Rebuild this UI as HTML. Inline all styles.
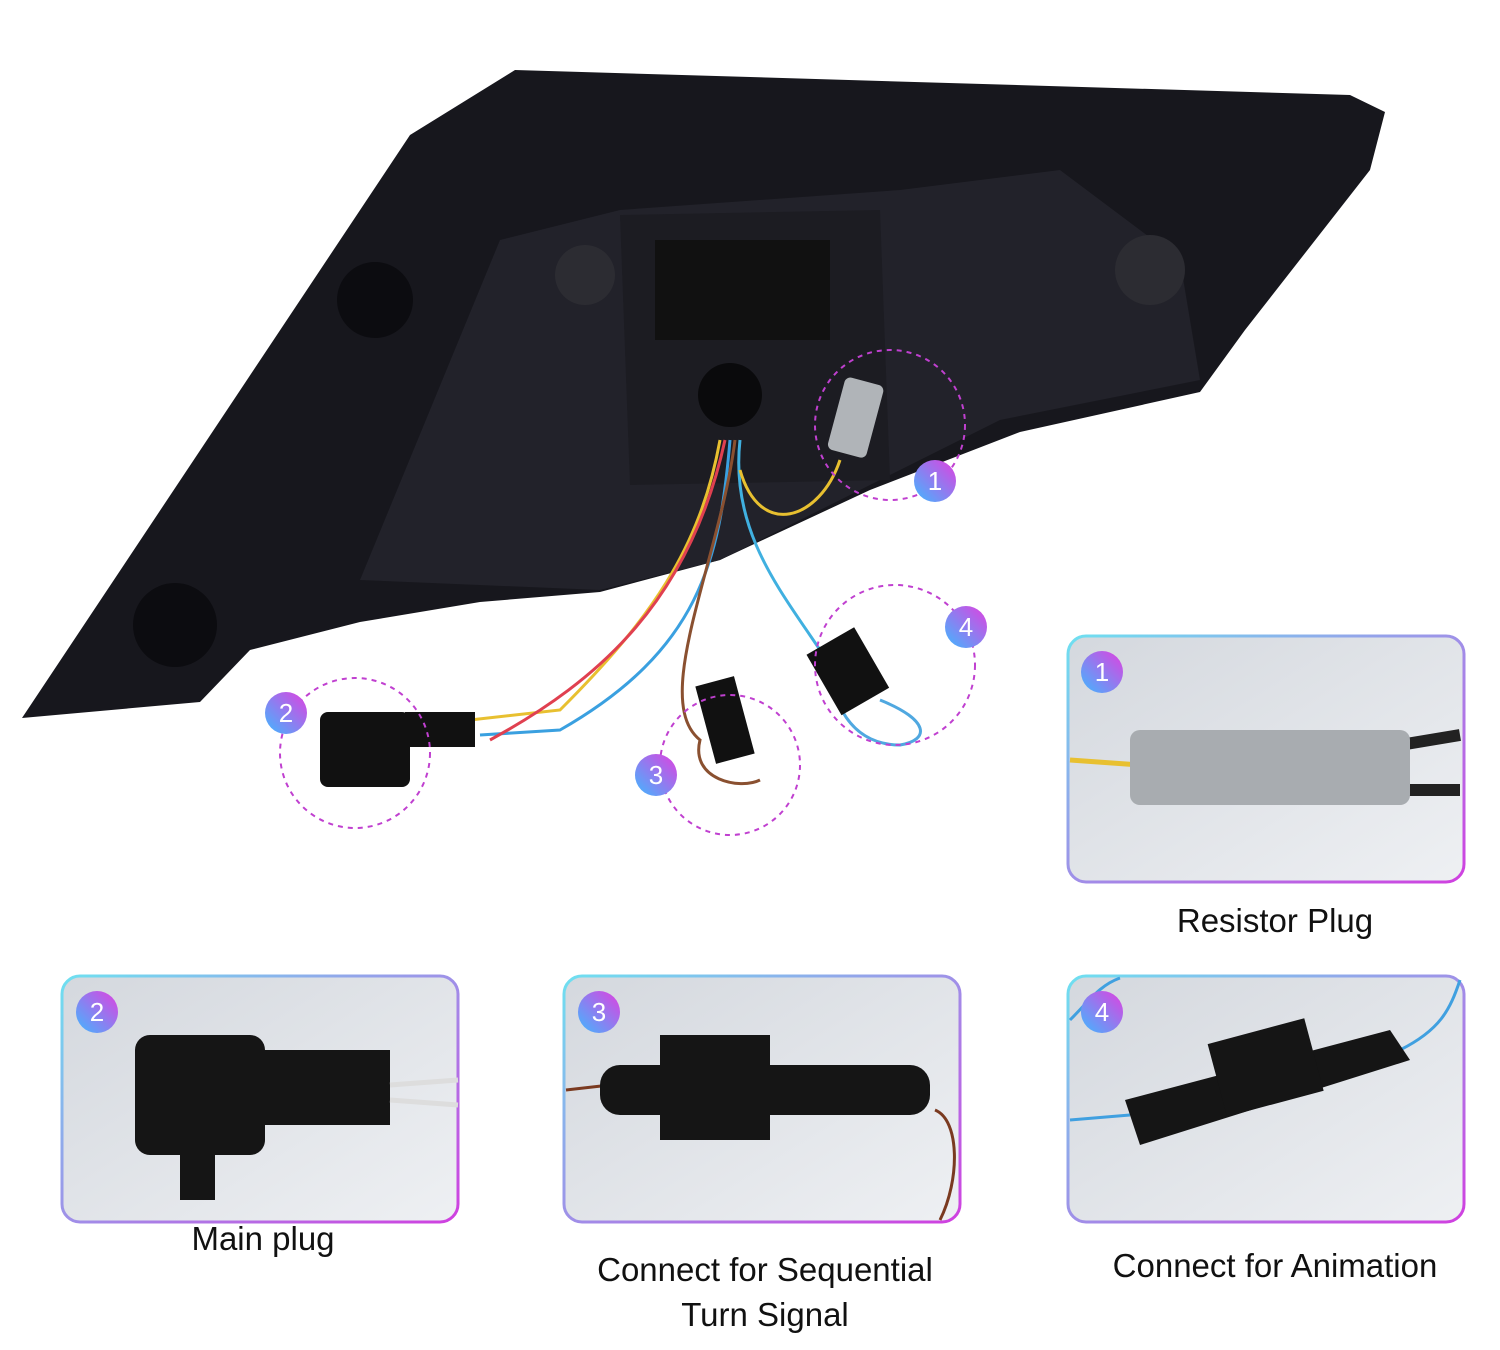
<!DOCTYPE html>
<html><head><meta charset="utf-8"><style>
body{margin:0;background:#fff;width:1500px;height:1350px;overflow:hidden;font-family:"Liberation Sans",sans-serif}
.lbl{position:absolute;font-size:33px;color:#111;text-align:center}
</style></head><body>
<svg width="1500" height="1350" style="position:absolute;left:0;top:0">
<defs>
<linearGradient id="bd" x1="0" y1="0" x2="1" y2="1"><stop offset="0" stop-color="#6ee0f0"/><stop offset="1" stop-color="#d040e0"/></linearGradient>
<linearGradient id="bg" x1="0" y1="0" x2="1" y2="1"><stop offset="0" stop-color="#d4d8de"/><stop offset="1" stop-color="#eef0f3"/></linearGradient>
<linearGradient id="bdg" x1="0" y1="1" x2="1" y2="0"><stop offset="0" stop-color="#40b8ff"/><stop offset="1" stop-color="#e040e0"/></linearGradient>
</defs>
<polygon points="22,718 410,135 515,70 1350,95 1385,112 1370,170 1245,330 1200,392 1020,432 870,490 720,560 600,592 480,602 360,622 250,650 200,702" fill="#17171d"/>
<polygon points="360,580 500,240 620,210 900,190 1060,170 1180,260 1200,380 1000,420 860,490 720,560 600,590" fill="#22222a"/>
<polygon points="620,215 880,210 890,480 630,485" fill="#1c1c22"/>
<circle cx="585" cy="275" r="30" fill="#2c2c32"/><circle cx="1150" cy="270" r="35" fill="#2c2c32"/>
<circle cx="375" cy="300" r="38" fill="#0c0c10"/><circle cx="175" cy="625" r="42" fill="#0c0c10"/>
<circle cx="730" cy="395" r="32" fill="#0a0a0c"/>
<rect x="655" y="240" width="175" height="100" fill="#111"/>
<g fill="none" stroke-width="3">
<path d="M720,440 C700,550 650,620 560,710 L470,720" stroke="#e8c030"/>
<path d="M730,440 C720,560 700,650 560,730 L480,735" stroke="#3aa0e0"/>
<path d="M725,440 C690,600 600,680 490,740" stroke="#e04050"/>
<path d="M735,440 C720,560 650,700 700,740 C690,780 740,790 760,780" stroke="#8a5030"/>
<path d="M740,440 C730,530 780,590 820,650" stroke="#40b0e0"/>
<path d="M740,470 C760,540 820,520 840,460" stroke="#e8c030"/>
<path d="M880,700 C930,720 930,740 900,745 C850,745 830,700 830,660" stroke="#50a8e0"/>
</g>
<rect x="835" y="380" width="40" height="75" rx="6" fill="#b0b4b8" transform="rotate(15 855 420)"/>
<rect x="320" y="712" width="90" height="75" rx="8" fill="#111"/><rect x="405" y="712" width="70" height="35" fill="#111"/>
<rect x="705" y="680" width="40" height="80" fill="#111" transform="rotate(-15 725 720)"/>
<rect x="820" y="635" width="55" height="70" fill="#111" transform="rotate(-30 850 670)"/>
<g fill="none" stroke="#c040d0" stroke-width="2" stroke-dasharray="5,5">
<circle cx="890" cy="425" r="75"/><circle cx="355" cy="753" r="75"/><circle cx="730" cy="765" r="70"/><circle cx="895" cy="665" r="80"/>
</g>
<g fill="url(#bg)" stroke="url(#bd)" stroke-width="3">
<rect x="1068" y="636" width="396" height="246" rx="18"/>
<rect x="62" y="976" width="396" height="246" rx="18"/>
<rect x="564" y="976" width="396" height="246" rx="18"/>
<rect x="1068" y="976" width="396" height="246" rx="18"/>
</g>
<path d="M1070,760 L1140,765" stroke="#e8c030" stroke-width="5"/>
<path d="M1400,745 L1460,735 M1400,790 L1460,790" stroke="#222" stroke-width="12"/>
<rect x="1130" y="730" width="280" height="75" rx="10" fill="#a8acb0"/>
<rect x="135" y="1035" width="130" height="120" rx="15" fill="#151515"/><rect x="260" y="1050" width="130" height="75" fill="#151515"/><rect x="180" y="1150" width="35" height="50" fill="#151515"/>
<path d="M390,1085 L458,1080 M390,1100 L458,1105" stroke="#ddd" stroke-width="5"/>
<path d="M566,1090 L610,1085 M935,1110 C960,1120 960,1180 940,1220" stroke="#7a3a20" stroke-width="3" fill="none"/>
<rect x="600" y="1065" width="330" height="50" rx="20" fill="#151515"/><rect x="660" y="1035" width="110" height="105" fill="#151515"/>
<path d="M1070,1120 L1130,1115 M1400,1050 C1440,1030 1450,1010 1460,980 M1070,1020 C1090,1000 1100,985 1120,978" stroke="#40a0e0" stroke-width="3" fill="none"/>
<polygon points="1125,1100 1390,1030 1410,1060 1140,1145" fill="#151515"/><rect x="1215" y="1030" width="100" height="75" fill="#151515" transform="rotate(-15 1265 1065)"/>
<g fill="url(#bdg)">
<circle cx="935" cy="481" r="21"/><circle cx="286" cy="713" r="21"/><circle cx="656" cy="775" r="21"/><circle cx="966" cy="627" r="21"/>
<circle cx="1102" cy="672" r="21"/><circle cx="97" cy="1012" r="21"/><circle cx="599" cy="1012" r="21"/><circle cx="1102" cy="1012" r="21"/>
</g>
<g fill="#fff" font-family="Liberation Sans" font-size="26" text-anchor="middle">
<text x="935" y="490">1</text><text x="286" y="722">2</text><text x="656" y="784">3</text><text x="966" y="636">4</text>
<text x="1102" y="681">1</text><text x="97" y="1021">2</text><text x="599" y="1021">3</text><text x="1102" y="1021">4</text>
</g>
</svg>
<div class="lbl" style="left:1100px;top:902px;width:350px">Resistor Plug</div>
<div class="lbl" style="left:113px;top:1220px;width:300px">Main plug</div>
<div class="lbl" style="left:560px;top:1247px;width:410px;line-height:45px">Connect for Sequential<br>Turn Signal</div>
<div class="lbl" style="left:1070px;top:1247px;width:410px">Connect for Animation</div>
</body></html>
